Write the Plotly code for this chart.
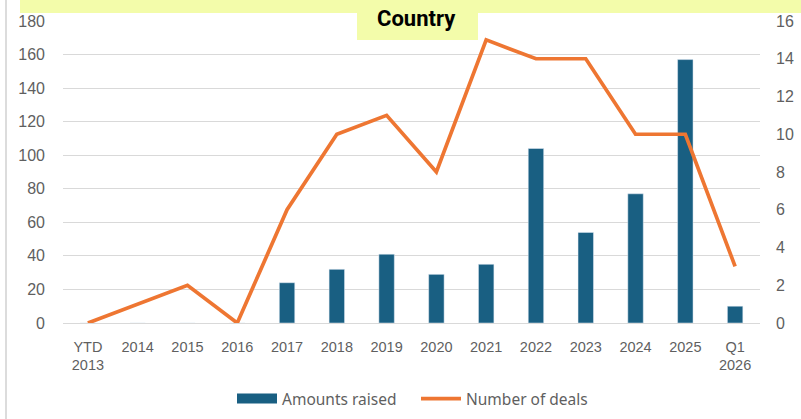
import plotly.graph_objects as go

categories = ["YTD<br>2013", "2014", "2015", "2016", "2017", "2018", "2019", "2020",
              "2021", "2022", "2023", "2024", "2025", "Q1<br>2026"]
amounts_raised = [0, 0, 0, 0, 24, 32, 41, 29, 35, 104, 54, 77, 157, 10]
number_of_deals = [0, 1, 2, 0, 6, 10, 11, 8, 15, 14, 14, 10, 10, 3]
left_ticks = [0, 20, 40, 60, 80, 100, 120, 140, 160, 180]
right_ticks = [0, 2, 4, 6, 8, 10, 12, 14, 16]

BAR = "#195f82"
LINE = "#ee7632"
GREY = "#5f5f5f"
YELLOW = "#f3fcaa"

x_font = dict(family="Liberation Sans, Arial", size=14.5, color=GREY)
y_font = dict(family="Liberation Sans, Arial", size=16, color=GREY)

PL, PR, PT, PB = 63, 760, 21, 323  # plot area pixels
W, H = 801, 419


def px_x(x):
    return (x - PL) / (PR - PL)


def px_y(y):
    return (PB - y) / (PB - PT)


fig = go.Figure()
fig.add_trace(go.Bar(x=categories, y=amounts_raised, name="Amounts raised",
                     marker_color=BAR, width=0.31, yaxis="y", showlegend=False))
# legend entry with a wide swatch for the bars
fig.add_trace(go.Scatter(x=[None], y=[None], name="Amounts raised", mode="lines",
                         line=dict(color=BAR, width=10), yaxis="y"))
fig.add_trace(go.Scatter(x=categories, y=number_of_deals, name="Number of deals",
                         mode="lines", line=dict(color=LINE, width=3.7), yaxis="y2"))

fig.update_layout(
    width=W, height=H,
    margin=dict(l=PL, r=W - PR, t=PT, b=H - PB, autoexpand=False),
    paper_bgcolor="white", plot_bgcolor="white",
    showlegend=True,
    legend=dict(orientation="h", x=px_x(232), xanchor="left", y=px_y(399), yanchor="middle",
                font=dict(family="Noto Sans, Lato", size=15.5, color=GREY),
                itemwidth=40, entrywidthmode="pixels", entrywidth=129,
                bgcolor="rgba(0,0,0,0)"),
    xaxis=dict(type="category", tickfont=x_font, showgrid=False, showline=False,
               ticks="", range=[-0.5, 13.5], ticklabelstandoff=13),
    yaxis=dict(range=[0, 180], tickvals=left_ticks, tickfont=y_font,
               gridcolor="#d9d9d9", gridwidth=1.2, zeroline=True, zerolinecolor="#d9d9d9",
               zerolinewidth=1.2, ticks="", ticklabelstandoff=17),
    yaxis2=dict(range=[0, 16], tickvals=right_ticks, tickfont=y_font, overlaying="y",
                side="right", showgrid=False, zeroline=False, ticks="", ticklabelstandoff=15),
)

# left border line of the original image
fig.add_shape(type="line", xref="paper", yref="paper", x0=px_x(6), x1=px_x(6),
              y0=px_y(419), y1=px_y(0), line=dict(color="#d0d0d0", width=1.5))
# yellow title band (cut off at top) and "Country" box
fig.add_shape(type="rect", xref="paper", yref="paper", x0=px_x(20), x1=px_x(801),
              y0=px_y(13), y1=px_y(-5), fillcolor=YELLOW, line=dict(width=0), layer="above")
fig.add_shape(type="rect", xref="paper", yref="paper", x0=px_x(357), x1=px_x(478),
              y0=px_y(40), y1=px_y(-5), fillcolor=YELLOW, line=dict(width=0), layer="above")
fig.add_annotation(text="<b>Country</b>", xref="paper", yref="paper",
                   x=px_x(416.5), y=px_y(18), xanchor="center", yanchor="middle",
                   showarrow=False, font=dict(family="Roboto", size=22, color="black"))

fig.write_html("out.html")
